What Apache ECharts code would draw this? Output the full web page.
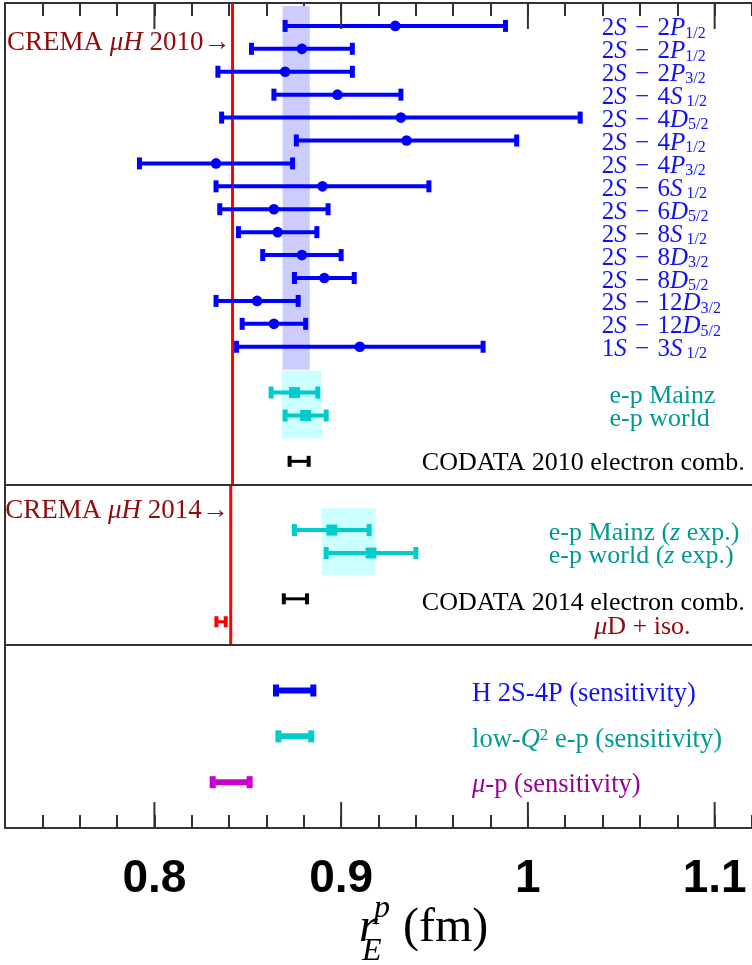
<!DOCTYPE html>
<html>
<head>
<meta charset="utf-8">
<script src="https://cdn.jsdelivr.net/npm/echarts@6/dist/echarts.min.js"></script>
<style>html,body{margin:0;padding:0;background:#fff}#c{width:752px;height:965px}</style>
</head>
<body>
<div id="c"></div>
<script>
// ---------- DATA ----------
// Hydrogen spectroscopy (panel 1)
const hLabels = [
  '{n|2}{i|S}{n| \u200a−\u200a 2}{i|P}{s|1/2}',
  '{n|2}{i|S}{n| \u200a−\u200a 2}{i|P}{s|1/2}',
  '{n|2}{i|S}{n| \u200a−\u200a 2}{i|P}{s|3/2}',
  '{n|2}{i|S}{n| \u200a−\u200a 4}{i|S}{s| 1/2}',
  '{n|2}{i|S}{n| \u200a−\u200a 4}{i|D}{s|5/2}',
  '{n|2}{i|S}{n| \u200a−\u200a 4}{i|P}{s|1/2}',
  '{n|2}{i|S}{n| \u200a−\u200a 4}{i|P}{s|3/2}',
  '{n|2}{i|S}{n| \u200a−\u200a 6}{i|S}{s| 1/2}',
  '{n|2}{i|S}{n| \u200a−\u200a 6}{i|D}{s|5/2}',
  '{n|2}{i|S}{n| \u200a−\u200a 8}{i|S}{s| 1/2}',
  '{n|2}{i|S}{n| \u200a−\u200a 8}{i|D}{s|3/2}',
  '{n|2}{i|S}{n| \u200a−\u200a 8}{i|D}{s|5/2}',
  '{n|2}{i|S}{n| \u200a−\u200a 12}{i|D}{s|3/2}',
  '{n|2}{i|S}{n| \u200a−\u200a 12}{i|D}{s|5/2}',
  '{n|1}{i|S}{n| \u200a−\u200a 3}{i|S}{s| 1/2}'
];
const hRadius = [0.929, 0.879, 0.870, 0.898, 0.932, 0.935, 0.833, 0.890, 0.864, 0.866, 0.879, 0.891, 0.855, 0.864, 0.910];
const hUncert = [0.059, 0.027, 0.036, 0.034, 0.096, 0.059, 0.041, 0.057, 0.029, 0.021, 0.021, 0.016, 0.022, 0.017, 0.066];
const hRows   = [1, 2, 3, 4, 5, 6, 7, 8, 9, 10, 11, 12, 13, 14, 15];

// Electron-proton scattering (panel 1)
const epLabels = ['e-p Mainz', 'e-p world'];
const epRadius = [0.875, 0.881];
const epUncert = [0.0125, 0.011];
const epRows   = [17, 18];

// CODATA 2010
const codata10Labels = ['CODATA 2010 electron comb.'];
const codata10Radius = [0.8775];
const codata10Uncert = [0.0051];
const codata10Rows   = [20];

// Panel 2: e-p z-expansion
const epzLabels = ['e-p Mainz ({i|z} exp.)', 'e-p world ({i|z} exp.)'];
const epzRadius = [0.895, 0.916];
const epzUncert = [0.020, 0.024];
const epzRows   = [23, 24];

// CODATA 2014
const codata14Labels = ['CODATA 2014 electron comb.'];
const codata14Radius = [0.8755];
const codata14Uncert = [0.0062];
const codata14Rows   = [26];

// muonic deuterium + isotope shift
const muDLabels = ['{i|μ}D + iso.'];
const muDRadius = [0.8357];
const muDUncert = [0.0025];
const muDRows   = [27];

// Panel 3: sensitivities
const sensLabels = ['H 2S-4P (sensitivity)', 'low-{i|Q}{sup|2} e-p (sensitivity)', '{i|μ}-p (sensitivity)'];
const sensRadius = [0.8751, 0.8752, 0.8411];
const sensUncert = [0.0100, 0.0088, 0.0099];
const sensRows   = [30, 32, 34];

// CREMA muonic hydrogen values (vertical lines)
const cremaLabels = ['CREMA {i|μH} 2010→', 'CREMA {i|μH} 2014→'];
const cremaRadius = [0.84184, 0.84087];
const cremaRowFrom = [0, 21];
const cremaRowTo   = [21, 28];

// Shaded average bands [from, to] and the rows they cover
const bandFrom    = [0.8686, 0.8683, 0.8896];
const bandTo      = [0.8832, 0.8896, 0.9184];
const bandRowFrom = [0.13, 16.05, 22.05];
const bandRowTo   = [16.0, 19.0, 24.95];

// Panel separators (row boundaries)
const panelBreaks = [21, 28];

// Axis ticks
const majorTicks = [0.8, 0.9, 1.0, 1.1];
const minorTicks = [0.74, 0.76, 0.78, 0.82, 0.84, 0.86, 0.88, 0.92, 0.94, 0.96, 0.98, 1.02, 1.04, 1.06, 1.08, 1.12];
const xMin = 0.72, xMax = 1.12, rowMin = 0, rowMax = 36;

// ---------- STYLE ----------
const SERIF = '"Liberation Serif", "Times New Roman", serif';
const SANS = '"Liberation Sans", Arial, sans-serif';
const C_BLUE = '#0000ff', C_CYAN = '#00cccc', C_BLACK = '#000000', C_RED = '#ff0000', C_MAG = '#cc00cc';
const T_BLUE = '#1212f0', T_TEAL = '#009a92', T_DARKRED = '#8e0c0c', T_PURPLE = '#990099';
const AXIS = '#333333';
const MAJOR_LEN = 26, MINOR_LEN = 13;

function rich(fill, size, subSize) {
  const ss = subSize || Math.round(size * 0.62);
  return {
    n: {fill: fill, fontFamily: SERIF, fontSize: size, lineHeight: size},
    i: {fill: fill, fontFamily: SERIF, fontStyle: 'italic', fontSize: size, lineHeight: size},
    s: {fill: fill, fontFamily: SERIF, fontSize: ss, lineHeight: 12, verticalAlign: 'bottom'},
    sup: {fill: fill, fontFamily: SERIF, fontSize: ss, lineHeight: 10, verticalAlign: 'top'}
  };
}

function errorBars(cfg) {
  return {
    type: 'custom',
    coordinateSystem: 'cartesian2d',
    encode: {x: 0, y: 2},
    silent: true,
    clip: false,
    z: 5,
    data: cfg.centers.map((c, i) => [c, cfg.errors[i], cfg.rows[i]]),
    renderItem: function (params, api) {
      const c = api.value(0), e = api.value(1), r = api.value(2);
      const L = api.coord([c - e, r]), R = api.coord([c + e, r]), C = api.coord([c, r]);
      const ch = [];
      ch.push({type: 'line', shape: {x1: L[0], y1: L[1], x2: R[0], y2: R[1]}, style: {stroke: cfg.color, lineWidth: cfg.lw}});
      [L, R].forEach(P => ch.push({type: 'rect', shape: {x: P[0] - cfg.capW / 2, y: P[1] - cfg.capH / 2, width: cfg.capW, height: cfg.capH}, style: {fill: cfg.color}}));
      if (cfg.marker === 'circle') {
        ch.push({type: 'circle', shape: {cx: C[0], cy: C[1], r: cfg.ms}, style: {fill: cfg.color}});
      } else if (cfg.marker === 'square') {
        ch.push({type: 'rect', shape: {x: C[0] - cfg.ms, y: C[1] - cfg.ms, width: 2 * cfg.ms, height: 2 * cfg.ms}, style: {fill: cfg.color}});
      }
      if (cfg.labels) {
        const A = api.coord([cfg.labelX, r]);
        ch.push({
          type: 'text',
          style: {
            x: A[0], y: A[1] + cfg.labelDy,
            text: cfg.labels[params.dataIndex],
            align: cfg.align || 'left', verticalAlign: 'middle',
            fill: cfg.labelColor, fontFamily: SERIF, fontSize: cfg.fontSize,
            rich: rich(cfg.labelColor, cfg.fontSize, cfg.subSize)
          }
        });
      }
      return {type: 'group', children: ch};
    }
  };
}

const chart = echarts.init(document.getElementById('c'), null, {renderer: 'canvas'});

const allTicks = majorTicks.concat(minorTicks).sort((a, b) => a - b);
const xCommon = {type: 'value', min: xMin, max: xMax, splitLine: {show: false}};
const option = {
  backgroundColor: '#ffffff',
  animation: false,
  grid: {left: 5, right: -3, top: 3, bottom: 137, containLabel: false},
  xAxis: [
    Object.assign({}, xCommon, {
      position: 'bottom',
      axisLine: {show: true, onZero: false, lineStyle: {color: AXIS, width: 2}},
      axisTick: {show: true, inside: true, length: MINOR_LEN, customValues: allTicks, lineStyle: {color: AXIS, width: 2}},
      axisLabel: {show: true, customValues: majorTicks, margin: 28, fontFamily: SANS, fontWeight: 'bold', fontSize: 46, color: '#000',
        formatter: v => String(Math.round(v * 10) / 10)}
    }),
    Object.assign({}, xCommon, {
      position: 'top',
      axisLine: {show: true, onZero: false, lineStyle: {color: AXIS, width: 2}},
      axisTick: {show: true, inside: true, length: MINOR_LEN, customValues: allTicks, lineStyle: {color: AXIS, width: 2}},
      axisLabel: {show: false}
    })
  ],
  yAxis: {
    type: 'value', min: rowMin, max: rowMax, inverse: true,
    axisLine: {show: true, onZero: false, lineStyle: {color: AXIS, width: 2}},
    axisTick: {show: false}, axisLabel: {show: false}, splitLine: {show: false}
  },
  graphic: [
    {type: 'text', left: 359, top: 904, style: {text: 'r', fontFamily: SERIF, fontStyle: 'italic', fontSize: 48, fill: '#000'}},
    {type: 'text', left: 374, top: 893, style: {text: 'p', fontFamily: SERIF, fontStyle: 'italic', fontSize: 32, fill: '#000'}},
    {type: 'text', left: 362, top: 936, style: {text: 'E', fontFamily: SERIF, fontStyle: 'italic', fontSize: 32, fill: '#000'}},
    {type: 'text', left: 403, top: 904, style: {text: '(fm)', fontFamily: SERIF, fontSize: 48, fill: '#000'}}
  ],
  series: [
    // shaded bands + panel separators
    {
      type: 'custom', coordinateSystem: 'cartesian2d', xAxisIndex: 0, encode: {x: [0, 1], y: [2, 3]}, silent: true, z: 1,
      data: bandFrom.map((f, i) => [f, bandTo[i], bandRowFrom[i], bandRowTo[i]]),
      renderItem: function (params, api) {
        const a = api.coord([api.value(0), api.value(2)]);
        const b = api.coord([api.value(1), api.value(3)]);
        const fills = ['#ccccff', '#ccffff', '#ccffff'];
        return {type: 'rect', shape: {x: a[0], y: a[1], width: b[0] - a[0], height: b[1] - a[1]}, style: {fill: fills[params.dataIndex]}};
      },
      markLine: {
        silent: true, symbol: 'none', label: {show: false},
        lineStyle: {color: AXIS, width: 2, type: 'solid'},
        data: panelBreaks.map(v => ({yAxis: v}))
      }
    },
    // long major ticks (top and bottom, pointing inward)
    {
      type: 'custom', coordinateSystem: 'cartesian2d', xAxisIndex: 0, encode: {x: 0}, silent: true, z: 6, clip: false,
      data: majorTicks.map(v => [v]),
      renderItem: function (params, api) {
        const v = api.value(0);
        const b = api.coord([v, rowMax]), t = api.coord([v, rowMin]);
        return {type: 'group', children: [
          {type: 'line', shape: {x1: b[0], y1: b[1], x2: b[0], y2: b[1] - MAJOR_LEN}, style: {stroke: AXIS, lineWidth: 2}},
          {type: 'line', shape: {x1: t[0], y1: t[1], x2: t[0], y2: t[1] + MAJOR_LEN}, style: {stroke: AXIS, lineWidth: 2}}
        ]};
      }
    },
    // CREMA vertical lines + labels
    {
      type: 'custom', coordinateSystem: 'cartesian2d', xAxisIndex: 0, encode: {x: 0, y: [1, 2]}, silent: true, z: 3, clip: false,
      data: cremaRadius.map((v, i) => [v, cremaRowFrom[i], cremaRowTo[i]]),
      renderItem: function (params, api) {
        const v = api.value(0);
        const a = api.coord([v, api.value(1)]), b = api.coord([v, api.value(2)]);
        const labelRow = [1.72, 22.18][params.dataIndex];
        const t = api.coord([v, labelRow]);
        return {type: 'group', children: [
          {type: 'line', shape: {x1: a[0], y1: a[1], x2: b[0], y2: b[1]}, style: {stroke: C_RED, lineWidth: 3}},
          {type: 'text', style: {x: t[0] - 2, y: t[1], text: cremaLabels[params.dataIndex], align: 'right', verticalAlign: 'middle',
            fill: T_DARKRED, fontFamily: SERIF, fontSize: 27, rich: rich(T_DARKRED, 27)}}
        ]};
      }
    },
    errorBars({centers: hRadius, errors: hUncert, rows: hRows, color: C_BLUE, lw: 4, capW: 5, capH: 12, marker: 'circle', ms: 5.3,
      labels: hLabels, labelX: 1.0395, labelDy: 3, labelColor: T_BLUE, fontSize: 25, subSize: 16}),
    errorBars({centers: epRadius, errors: epUncert, rows: epRows, color: C_CYAN, lw: 4, capW: 5, capH: 12, marker: 'square', ms: 5.5,
      labels: epLabels, labelX: 1.0437, labelDy: 4, labelColor: T_TEAL, fontSize: 26}),
    errorBars({centers: codata10Radius, errors: codata10Uncert, rows: codata10Rows, color: C_BLACK, lw: 3, capW: 4, capH: 11, marker: 'none', ms: 0,
      labels: codata10Labels, labelX: 1.1161, labelDy: 2, labelColor: '#000', fontSize: 26, align: 'right'}),
    errorBars({centers: epzRadius, errors: epzUncert, rows: epzRows, color: C_CYAN, lw: 4, capW: 5, capH: 12, marker: 'square', ms: 5.5,
      labels: epzLabels, labelX: 1.0112, labelDy: 3, labelColor: T_TEAL, fontSize: 26}),
    errorBars({centers: codata14Radius, errors: codata14Uncert, rows: codata14Rows, color: C_BLACK, lw: 3, capW: 4, capH: 11, marker: 'none', ms: 0,
      labels: codata14Labels, labelX: 1.1161, labelDy: 4, labelColor: '#000', fontSize: 26, align: 'right'}),
    errorBars({centers: muDRadius, errors: muDUncert, rows: muDRows, color: C_RED, lw: 3, capW: 4, capH: 11, marker: 'none', ms: 0,
      labels: muDLabels, labelX: 1.0355, labelDy: 5, labelColor: T_DARKRED, fontSize: 26}),
    errorBars({centers: [sensRadius[0]], errors: [sensUncert[0]], rows: [sensRows[0]], color: C_BLUE, lw: 6, capW: 6, capH: 12, marker: 'none', ms: 0,
      labels: [sensLabels[0]], labelX: 0.9701, labelDy: 4, labelColor: T_BLUE, fontSize: 26.5}),
    errorBars({centers: [sensRadius[1]], errors: [sensUncert[1]], rows: [sensRows[1]], color: C_CYAN, lw: 6, capW: 6, capH: 12, marker: 'none', ms: 0,
      labels: [sensLabels[1]], labelX: 0.9701, labelDy: 4, labelColor: T_TEAL, fontSize: 26.5, subSize: 17}),
    errorBars({centers: [sensRadius[2]], errors: [sensUncert[2]], rows: [sensRows[2]], color: C_MAG, lw: 6, capW: 6, capH: 12, marker: 'none', ms: 0,
      labels: [sensLabels[2]], labelX: 0.9701, labelDy: 3, labelColor: T_PURPLE, fontSize: 26.5})
  ]
};
chart.setOption(option);
</script>
</body>
</html>
